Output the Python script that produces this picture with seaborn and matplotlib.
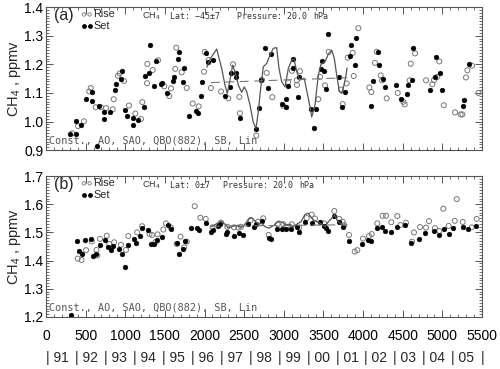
import numpy as np
import pandas as pd
import seaborn as sns
import matplotlib
matplotlib.use("Agg")
import matplotlib.pyplot as plt
from matplotlib.ticker import MultipleLocator

sns.set_style("ticks")
plt.rcParams['font.family'] = ['Liberation Sans', 'DejaVu Sans']
plt.rcParams['mathtext.default'] = 'regular'

# ---- panel (a) : Lat -45, 20 hPa ----
a_rise_x = [332, 404, 479, 546, 564, 627, 694, 757, 841, 854, 908, 930, 984, 1047, 1127, 1198, 1215,
            1274, 1278, 1346, 1413, 1492, 1555, 1577, 1631, 1644, 1712, 1775, 1851, 1926, 1993, 2002,
            2052, 2081, 2208, 2300, 2359, 2439, 2447, 2653, 2725, 2784, 2855, 2994, 3053, 3103, 3163,
            3166, 3204, 3435, 3457, 3520, 3566, 3721, 3743, 3793, 3806, 3869, 3882, 3940, 4079, 4104,
            4150, 4172, 4222, 4239, 4298, 4437, 4507, 4525, 4588, 4601, 4655, 4794, 4873, 4895, 4936,
            4961, 5017, 5160, 5231, 5252, 5298, 5315, 5374, 5454]
a_rise_y = [0.959, 0.984, 1.001, 1.105, 1.117, 1.050, 1.050, 1.047, 1.043, 1.078, 1.160, 1.168, 1.142,
            1.056, 1.028, 1.009, 1.068, 1.134, 1.201, 1.180, 1.214, 1.123, 1.089, 1.116, 1.184, 1.258,
            1.172, 1.117, 1.063, 1.053, 1.174, 1.243, 1.215, 1.117, 1.105, 1.081, 1.200, 1.086, 1.029,
            0.951, 1.146, 1.170, 1.085, 1.055, 1.137, 1.177, 1.144, 1.128, 1.176, 1.078, 1.156, 1.126,
            1.243, 1.112, 1.061, 1.133, 1.223, 1.240, 1.159, 1.326, 1.119, 1.103, 1.205, 1.244, 1.161,
            1.144, 1.081, 1.100, 1.069, 1.060, 1.144, 1.202, 1.238, 1.144, 1.130, 1.145, 1.156, 1.210,
            1.057, 1.032, 1.025, 1.025, 1.154, 1.179, 1.195, 1.100]

a_set_x = [303, 375, 375, 445, 505, 584, 584, 640, 665, 732, 732, 807, 867, 887, 946, 955, 1000, 1026,
           1094, 1094, 1164, 1233, 1245, 1303, 1312, 1366, 1384, 1447, 1463, 1530, 1598, 1615, 1669,
           1674, 1728, 1747, 1810, 1892, 1917, 1955, 1964, 2022, 2040, 2103, 2258, 2317, 2330, 2397,
           2393, 2447, 2653, 2687, 2716, 2759, 2804, 2835, 2977, 3024, 3028, 3053, 3112, 3120, 3175,
           3192, 3343, 3385, 3402, 3469, 3486, 3510, 3532, 3554, 3696, 3738, 3772, 3831, 3844, 3894,
           3911, 4104, 4125, 4192, 4201, 4251, 4273, 4415, 4482, 4554, 4563, 4613, 4630, 4844, 4907,
           4920, 4970, 4992, 5260, 5277, 5340]
a_set_y = [0.956, 0.956, 1.001, 0.987, 1.079, 1.103, 1.071, 0.915, 1.054, 1.033, 1.008, 1.033, 1.110,
           1.132, 1.147, 1.175, 1.039, 1.021, 1.014, 0.988, 1.005, 1.050, 1.159, 1.170, 1.266, 1.123,
           1.210, 1.131, 1.134, 1.098, 1.141, 1.156, 1.219, 1.243, 1.138, 1.188, 1.018, 1.036, 1.030,
           1.089, 1.138, 1.240, 1.209, 1.215, 1.089, 1.120, 1.170, 1.170, 1.156, 1.012, 0.974, 1.048,
           1.145, 1.256, 1.118, 1.235, 1.061, 1.078, 1.051, 1.125, 1.186, 1.217, 1.085, 1.154, 1.043,
           0.976, 1.043, 1.182, 1.212, 1.176, 1.113, 1.307, 1.154, 1.051, 1.103, 1.229, 1.266, 1.197,
           1.293, 1.053, 1.142, 1.243, 1.196, 1.149, 1.121, 1.126, 1.078, 1.096, 1.126, 1.144, 1.258,
           1.110, 1.154, 1.226, 1.168, 1.110, 1.054, 1.074, 1.202]

a_fit_x = [2030, 2069, 2153, 2216, 2258, 2287, 2321, 2355, 2384, 2426, 2469, 2502, 2532, 2574, 2615,
           2649, 2678, 2708, 2741, 2784, 2826, 2867, 2910, 2939, 2973, 3015, 3057, 3100, 3129, 3163,
           3204, 3258, 3309, 3352, 3393, 3435, 3469, 3520, 3561, 3604, 3637, 3667, 3700, 3730, 3759,
           3781, 3797]
a_fit_y = [1.19, 1.218, 1.253, 1.186, 1.127, 1.098, 1.145, 1.197, 1.174, 1.127, 1.102, 1.121, 1.104,
           1.057, 0.997, 0.976, 1.034, 1.116, 1.191, 1.203, 1.232, 1.256, 1.258, 1.186, 1.139, 1.121,
           1.186, 1.215, 1.218, 1.174, 1.145, 1.151, 1.081, 1.016, 1.057, 1.162, 1.200, 1.209, 1.235,
           1.250, 1.221, 1.162, 1.106, 1.098, 1.127, 1.156, 1.187]
a_trend_x = [2080, 3800]
a_trend_y = [1.136, 1.153]

# ---- panel (b) : Lat 0, 20 hPa ----
b_rise_x = [400, 448, 505, 577, 637, 647, 681, 766, 797, 860, 946, 1009, 1038, 1150, 1213, 1306, 1337,
            1381, 1407, 1480, 1514, 1574, 1649, 1697, 1743, 1775, 1876, 1947, 2015, 2100, 2208, 2287,
            2372, 2426, 2460, 2582, 2674, 2741, 2809, 2923, 2994, 3036, 3100, 3192, 3289, 3352, 3393,
            3507, 3637, 3700, 3743, 3763, 3822, 3894, 3927, 3999, 4075, 4109, 4179, 4247, 4289, 4356,
            4432, 4470, 4541, 4617, 4642, 4718, 4794, 4831, 4907, 4961, 5012, 5080, 5156, 5181, 5257,
            5370, 5433]
b_rise_y = [1.407, 1.402, 1.437, 1.468, 1.438, 1.418, 1.477, 1.488, 1.459, 1.465, 1.456, 1.438, 1.487,
            1.500, 1.522, 1.494, 1.491, 1.466, 1.493, 1.510, 1.532, 1.517, 1.459, 1.485, 1.447, 1.467,
            1.593, 1.552, 1.548, 1.518, 1.535, 1.520, 1.518, 1.517, 1.520, 1.544, 1.538, 1.550, 1.491,
            1.529, 1.529, 1.519, 1.529, 1.517, 1.551, 1.563, 1.549, 1.532, 1.576, 1.548, 1.538, 1.526,
            1.491, 1.432, 1.437, 1.478, 1.487, 1.494, 1.532, 1.559, 1.559, 1.536, 1.558, 1.526, 1.534,
            1.467, 1.500, 1.519, 1.517, 1.540, 1.515, 1.505, 1.584, 1.523, 1.541, 1.618, 1.537, 1.518,
            1.548]

b_set_x = [315, 387, 419, 458, 495, 564, 597, 628, 675, 747, 776, 816, 848, 923, 961, 999, 1034, 1104,
           1139, 1180, 1215, 1284, 1321, 1360, 1398, 1467, 1543, 1577, 1653, 1682, 1722, 1757, 1833,
           1905, 1934, 2015, 2081, 2109, 2174, 2195, 2267, 2287, 2372, 2431, 2481, 2552, 2624, 2649,
           2729, 2817, 2835, 2910, 2973, 3028, 3091, 3163, 3195, 3271, 3359, 3457, 3511, 3532, 3561,
           3633, 3700, 3743, 3819, 3986, 4066, 4096, 4172, 4242, 4280, 4352, 4428, 4533, 4601, 4709,
           4785, 4895, 4958, 5021, 5080, 5138, 5257, 5320, 5424]
b_set_y = [1.207, 1.469, 1.435, 1.423, 1.474, 1.478, 1.417, 1.422, 1.456, 1.472, 1.449, 1.437, 1.452,
           1.442, 1.422, 1.376, 1.455, 1.476, 1.462, 1.488, 1.514, 1.507, 1.460, 1.459, 1.474, 1.485,
           1.526, 1.513, 1.463, 1.422, 1.441, 1.470, 1.517, 1.517, 1.509, 1.532, 1.503, 1.507, 1.523,
           1.530, 1.495, 1.502, 1.487, 1.499, 1.491, 1.529, 1.520, 1.529, 1.541, 1.481, 1.476, 1.511,
           1.511, 1.511, 1.512, 1.520, 1.502, 1.536, 1.534, 1.538, 1.523, 1.517, 1.505, 1.557, 1.538,
           1.518, 1.471, 1.458, 1.474, 1.471, 1.517, 1.518, 1.505, 1.502, 1.520, 1.526, 1.462, 1.477,
           1.497, 1.506, 1.491, 1.511, 1.494, 1.517, 1.520, 1.511, 1.524]

b_fit_x = [2081, 2141, 2208, 2258, 2300, 2342, 2384, 2418, 2469, 2510, 2552, 2595, 2637, 2678, 2721,
           2763, 2813, 2880, 2931, 2981, 3024, 3078, 3120, 3162, 3217, 3267, 3309, 3352, 3393, 3435,
           3478, 3520, 3561, 3604, 3637, 3680, 3730, 3785]
b_fit_y = [1.520, 1.529, 1.540, 1.529, 1.515, 1.520, 1.524, 1.523, 1.518, 1.529, 1.546, 1.552, 1.540,
           1.529, 1.532, 1.520, 1.515, 1.526, 1.540, 1.536, 1.526, 1.529, 1.520, 1.529, 1.538, 1.564,
           1.568, 1.550, 1.540, 1.536, 1.529, 1.520, 1.538, 1.550, 1.562, 1.540, 1.529, 1.523]
b_trend_x = [2080, 3800]
b_trend_y = [1.522, 1.527]

years = ['91', '92', '93', '94', '95', '96', '97', '98', '99', '00', '01', '02', '03', '04', '05']

panels = [
    dict(tag='(a)', lat='Lat: \u221245\u00b17', px=0.438, ylim=(0.9, 1.4),
         yt=[0.9, 1.0, 1.1, 1.2, 1.3, 1.4],
         rx=a_rise_x, ry=a_rise_y, sx=a_set_x, sy=a_set_y, fx=a_fit_x, fy=a_fit_y,
         tx=a_trend_x, ty=a_trend_y),
    dict(tag='(b)', lat='Lat: 0\u00b17', px=0.406, ylim=(1.2, 1.7),
         yt=[1.2, 1.3, 1.4, 1.5, 1.6, 1.7],
         rx=b_rise_x, ry=b_rise_y, sx=b_set_x, sy=b_set_y, fx=b_fit_x, fy=b_fit_y,
         tx=b_trend_x, ty=b_trend_y),
]

fig = plt.figure(figsize=(5.0, 3.69), dpi=100)
boxes = [[0.092, 0.593, 0.872, 0.388], [0.092, 0.141, 0.872, 0.382]]
frame_col = '#555555'
mono = 'DejaVu Sans Mono'

for i, p in enumerate(panels):
    ax = fig.add_axes(boxes[i])
    rise = pd.DataFrame({'day': p['rx'], 'ch4': p['ry']})
    sset = pd.DataFrame({'day': p['sx'], 'ch4': p['sy']})
    fit = pd.DataFrame({'day': p['fx'], 'ch4': p['fy']})
    trend = pd.DataFrame({'day': p['tx'], 'ch4': p['ty']})

    sns.lineplot(data=fit, x='day', y='ch4', ax=ax, color='#555555', lw=0.9, sort=False)
    sns.lineplot(data=trend, x='day', y='ch4', ax=ax, color='#777777', lw=0.8,
                 linestyle=(0, (8, 5)))
    sns.scatterplot(data=rise, x='day', y='ch4', ax=ax, marker='o', s=13,
                    facecolor='none', edgecolor='#777777', linewidth=0.7)
    sns.scatterplot(data=sset, x='day', y='ch4', ax=ax, marker='o', s=12,
                    color='black', edgecolor='black', linewidth=0.3)

    ax.set_xlim(0, 5500)
    ax.set_ylim(*p['ylim'])
    ax.set_yticks(p['yt'])
    ax.set_yticklabels(['%.1f' % v for v in p['yt']])
    ax.xaxis.set_major_locator(MultipleLocator(500))
    ax.xaxis.set_minor_locator(MultipleLocator(100))
    ax.yaxis.set_minor_locator(MultipleLocator(0.01))
    ax.tick_params(which='both', direction='in', top=True, right=True, colors=frame_col,
                   labelcolor='black', labelsize=10)
    ax.tick_params(which='major', length=5, width=0.7)
    ax.tick_params(which='minor', length=2.5, width=0.6)
    ax.tick_params(axis='y', pad=2)
    for sp in ax.spines.values():
        sp.set_color(frame_col)
        sp.set_linewidth(0.8)
    ax.set_xlabel('')
    ax.set_ylabel('CH$_4$ , ppmv', fontsize=10.5, labelpad=1)
    if i == 0:
        ax.set_xticklabels([])
    else:
        ax.set_xticks(range(0, 5501, 500))
        ax.set_xticklabels([str(v) for v in range(0, 5501, 500)])
        ax.tick_params(axis='x', pad=9)

    # panel annotations
    ax.text(0.018, 0.94, p['tag'], transform=ax.transAxes, fontsize=11.5, va='center')
    ax.scatter([0.087, 0.1], [0.948, 0.948], transform=ax.transAxes, s=6,
               facecolor='none', edgecolor='#777777', linewidth=0.6, clip_on=False)
    ax.scatter([0.087, 0.1], [0.868, 0.868], transform=ax.transAxes, s=6,
               color='black', clip_on=False)
    ax.text(0.108, 0.948, 'Rise', transform=ax.transAxes, fontsize=7.8, va='center')
    ax.text(0.108, 0.868, 'Set', transform=ax.transAxes, fontsize=7.8, va='center')
    ax.text(0.220, 0.935, 'CH$_4$', transform=ax.transAxes, fontsize=6.5, va='center',
            color='#333333')
    ax.text(0.284, 0.935, p['lat'], transform=ax.transAxes, fontsize=6.0, va='center',
            color='#333333', family=mono)
    ax.text(p['px'], 0.935, 'Pressure: 20.0', transform=ax.transAxes, fontsize=6.0,
            va='center', color='#333333', family=mono)
    ax.text(p['px'] + 0.175, 0.935, 'hPa', transform=ax.transAxes, fontsize=6.0,
            va='center', color='#333333', family=mono)
    ax.text(0.007, 0.03, 'Const., AO, SAO, QBO(882), SB, Lin', transform=ax.transAxes,
            fontsize=7.3, color='#555555', va='bottom', family=mono)

    if i == 1:
        trans = ax.get_xaxis_transform()
        for k, yr in enumerate(years):
            ax.text(k * 365.25, -0.29, '| ' + yr, transform=trans, fontsize=10,
                    ha='left', va='center', clip_on=False)
        ax.text(15 * 365.25, -0.29, '|', transform=trans, fontsize=10,
                ha='left', va='center', clip_on=False)

fig.savefig('out.png', dpi=100)
